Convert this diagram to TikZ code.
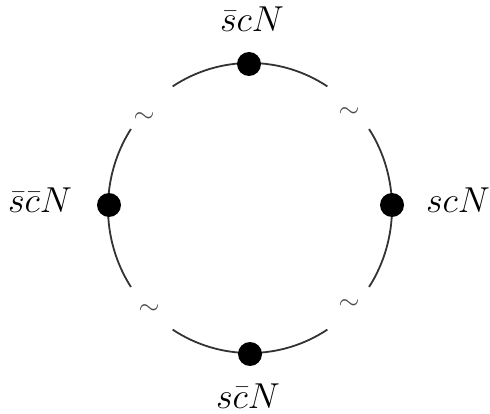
\documentclass[tikz,border=0pt]{standalone}
\usepackage{graphicx}
\newcommand{\biglbl}[1]{\scalebox{1.45}{$#1$}}
\newcommand{\bigtld}{\scalebox{1.3}{$\sim$}}
\begin{document}
\begin{tikzpicture}[x=1pt,y=-1pt,
  dot/.style={circle,fill=black,inner sep=0pt,minimum size=24pt},
  lbl/.style={font=\fontsize{24.88}{30}\selectfont,inner sep=0pt,anchor=base},
  arcline/.style={line width=1.8pt,draw=black!80},
  tld/.style={text=black!70,font=\fontsize{20.74}{22}\selectfont,inner sep=0pt}]
\useasboundingbox (0,0) rectangle (490,414);
\coordinate (c) at (250,208);
% arcs
\draw[arcline] ([shift={(57:142 and 145)}]c) arc[start angle=57,end angle=123,x radius=142,y radius=145];
\draw[arcline] ([shift={(147:142 and 145)}]c) arc[start angle=147,end angle=213,x radius=142,y radius=145];
\draw[arcline] ([shift={(237:142 and 145)}]c) arc[start angle=237,end angle=303,x radius=142,y radius=145];
\draw[arcline] ([shift={(327:142 and 145)}]c) arc[start angle=327,end angle=393,x radius=142,y radius=145];
% dots
\node[dot] (top) at (249,64) {};
\node[dot] (left) at (109,205) {};
\node[dot] (right) at (392,205) {};
\node[dot] (bottom) at (250,354) {};
% labels
\node[lbl] (ltop) at (252,32) {\biglbl{\bar{s}cN}};
\node[lbl] (lleft) at (40,213) {\biglbl{\bar{s}\bar{c}N}};
\node[lbl] (lright) at (458,213) {\biglbl{scN}};
\node[lbl] (lbottom) at (248,408) {\biglbl{s\bar{c}N}};
% tildes
\node[tld] (t1) at (144,118) {\bigtld};
\node[tld] (t2) at (349,113) {\bigtld};
\node[tld] (t3) at (149,310) {\bigtld};
\node[tld] (t4) at (349,305) {\bigtld};
\end{tikzpicture}
\end{document}
